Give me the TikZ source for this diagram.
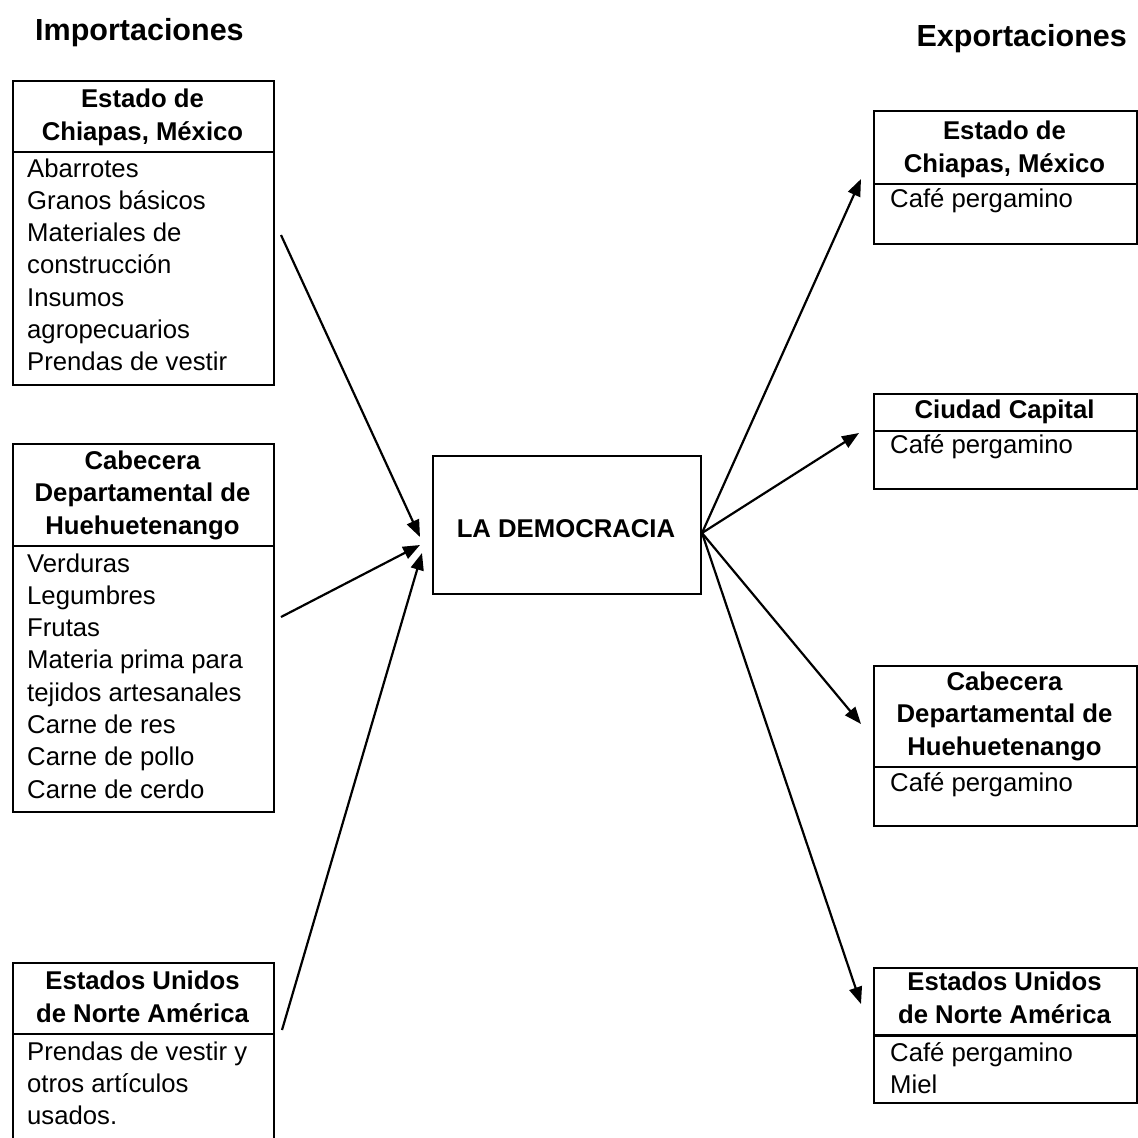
\documentclass[tikz,border=0pt]{standalone}
\usepackage{fontspec}
\setmainfont{Liberation Sans}
\usetikzlibrary{arrows.meta,calc}
\begin{document}
\begin{tikzpicture}[x=1pt,y=-1pt,
  boxline/.style={draw=black, line width=2pt, inner sep=0pt, anchor=north west},
  hdrtxt/.style={font=\bfseries\fontsize{25.7}{32.3}\selectfont, anchor=base, inner sep=0pt},
  bodytxt/.style={font=\fontsize{25.7}{32.3}\selectfont, anchor=base west, inner sep=0pt},
  titletxt/.style={font=\bfseries\fontsize{30.5}{36}\selectfont, inner sep=0pt},
  flow/.style={line width=2.2pt, -{Triangle[length=17pt,width=13pt]}}
]
\useasboundingbox (0,0) rectangle (1138,1138);

% titles
\node[titletxt, anchor=base west] (timp) at (35,40) {Importaciones};
\node[titletxt, anchor=base east] (texp) at (1127,46) {Exportaciones};

% ---------- left boxes ----------
\node[boxline, minimum width=261pt, minimum height=71pt] (L1h) at (12,80) {};
\node[boxline, minimum width=261pt, minimum height=233pt] (L1b) at (12,151) {};
\node[hdrtxt] (L1ht) at (142.5,107.7) {\parbox[t]{261pt}{\centering Estado de\\Chiapas, México}};
\node[bodytxt] (L1bt) at (27,177) {\parbox[t]{250pt}{\raggedright Abarrotes\\Granos básicos\\Materiales de\\construcción\\Insumos\\agropecuarios\\Prendas de vestir}};

\node[boxline, minimum width=261pt, minimum height=102pt] (L2h) at (12,443) {};
\node[boxline, minimum width=261pt, minimum height=266pt] (L2b) at (12,545) {};
\node[hdrtxt] (L2ht) at (142.5,469.4) {\parbox[t]{261pt}{\centering Cabecera\\Departamental de\\Huehuetenango}};
\node[bodytxt] (L2bt) at (27,572) {\parbox[t]{250pt}{\raggedright Verduras\\Legumbres\\Frutas\\Materia prima para\\tejidos artesanales\\Carne de res\\Carne de pollo\\Carne de cerdo}};

\node[boxline, minimum width=261pt, minimum height=71pt] (L3h) at (12,962) {};
\node[boxline, minimum width=261pt, minimum height=125pt] (L3b) at (12,1033) {};
\node[hdrtxt] (L3ht) at (142.5,989.7) {\parbox[t]{261pt}{\centering Estados Unidos\\de Norte América}};
\node[bodytxt] (L3bt) at (27,1060) {\parbox[t]{250pt}{\raggedright Prendas de vestir y\\otros artículos\\usados.}};

% ---------- centre ----------
\node[boxline, minimum width=268.5pt, minimum height=138pt] (C) at (431.5,455) {};
\node[hdrtxt] (Ct) at (566,537) {LA DEMOCRACIA};

% ---------- right boxes ----------
\node[boxline, minimum width=263pt, minimum height=73pt] (R1h) at (873,110) {};
\node[boxline, minimum width=263pt, minimum height=60pt] (R1b) at (873,183) {};
\node[hdrtxt] (R1ht) at (1004.5,139.7) {\parbox[t]{263pt}{\centering Estado de\\Chiapas, México}};
\node[bodytxt] (R1bt) at (890,207) {Café pergamino};

\node[boxline, minimum width=263pt, minimum height=37pt] (R2h) at (873,393) {};
\node[boxline, minimum width=263pt, minimum height=58pt] (R2b) at (873,430) {};
\node[hdrtxt] (R2ht) at (1004.5,418) {Ciudad Capital};
\node[bodytxt] (R2bt) at (890,453) {Café pergamino};

\node[boxline, minimum width=263pt, minimum height=101pt] (R3h) at (873,665) {};
\node[boxline, minimum width=263pt, minimum height=59pt] (R3b) at (873,766) {};
\node[hdrtxt] (R3ht) at (1004.5,690.4) {\parbox[t]{263pt}{\centering Cabecera\\Departamental de\\Huehuetenango}};
\node[bodytxt] (R3bt) at (890,791) {Café pergamino};

\node[boxline, minimum width=263pt, minimum height=68pt] (R4h) at (873,967) {};
\node[boxline, minimum width=263pt, minimum height=68pt] (R4b) at (873,1034) {};
\node[hdrtxt] (R4ht) at (1004.5,990.7) {\parbox[t]{263pt}{\centering Estados Unidos\\de Norte América}};
\node[bodytxt] (R4bt) at (890,1061) {\parbox[t]{250pt}{\raggedright Café pergamino\\Miel}};

% ---------- connectors ----------
\coordinate (i1) at (281,235);
\coordinate (i2) at (281,617);
\coordinate (i3) at (282,1030);
\coordinate (t1) at (420,537);
\coordinate (t2) at (420,545);
\coordinate (t3) at (422,553);
\coordinate (o) at ($(C.north east)+(0,78)$);
\coordinate (e1) at (861,179);
\coordinate (e2) at (859,433);
\coordinate (e3) at (861,724);
\coordinate (e4) at (861,1004);

\draw[flow] (i1) -- (t1);
\draw[flow] (i2) -- (t2);
\draw[flow] (i3) -- (t3);
\draw[flow] (o) -- (e1);
\draw[flow] (o) -- (e2);
\draw[flow] (o) -- (e3);
\draw[flow] (o) -- (e4);
\end{tikzpicture}
\end{document}
